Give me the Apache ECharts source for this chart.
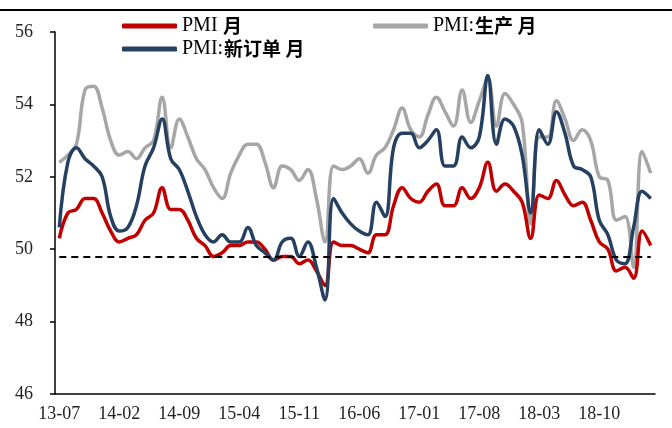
<!DOCTYPE html>
<html>
<head>
<meta charset="utf-8">
<script src="https://cdn.jsdelivr.net/npm/echarts@6/dist/echarts.min.js"></script>
<style>
    html, body { margin: 0; padding: 0; background: #fff; }
    #chart { width: 672px; height: 428px; }
</style>
</head>
<body>
<!-- 图表容器 -->
<div id="chart"></div>
<script>
// 月份
var months = [
    '13-07', '13-08', '13-09', '13-10', '13-11', '13-12',
    '14-01', '14-02', '14-03', '14-04', '14-05', '14-06', '14-07', '14-08', '14-09', '14-10', '14-11', '14-12',
    '15-01', '15-02', '15-03', '15-04', '15-05', '15-06', '15-07', '15-08', '15-09', '15-10', '15-11', '15-12',
    '16-01', '16-02', '16-03', '16-04', '16-05', '16-06', '16-07', '16-08', '16-09', '16-10', '16-11', '16-12',
    '17-01', '17-02', '17-03', '17-04', '17-05', '17-06', '17-07', '17-08', '17-09', '17-10', '17-11', '17-12',
    '18-01', '18-02', '18-03', '18-04', '18-05', '18-06', '18-07', '18-08', '18-09', '18-10', '18-11', '18-12',
    '19-01', '19-02', '19-03', '19-04'
]
// PMI 月
var pmi = [
    50.3, 51.0, 51.1, 51.4, 51.4, 51.0,
    50.5, 50.2, 50.3, 50.4, 50.8, 51.0, 51.7, 51.1, 51.1, 50.8, 50.3, 50.1,
    49.8, 49.9, 50.1, 50.1, 50.2, 50.2, 50.0, 49.7, 49.8, 49.8, 49.6, 49.7,
    49.4, 49.0, 50.2, 50.1, 50.1, 50.0, 49.9, 50.4, 50.4, 51.2, 51.7, 51.4,
    51.3, 51.6, 51.8, 51.2, 51.2, 51.7, 51.4, 51.7, 52.4, 51.6, 51.8, 51.6,
    51.3, 50.3, 51.5, 51.4, 51.9, 51.5, 51.2, 51.3, 50.8, 50.2, 50.0, 49.4,
    49.5, 49.2, 50.5, 50.1
]
// PMI:生产 月
var production = [
    52.4, 52.6, 52.9, 54.4, 54.5, 53.9,
    53.0, 52.6, 52.7, 52.5, 52.8, 53.0, 54.2, 52.8, 53.6, 53.1, 52.5, 52.2,
    51.7, 51.4, 52.1, 52.6, 52.9, 52.9, 52.4, 51.7, 52.3, 52.2, 51.9, 52.2,
    51.4, 50.2, 52.3, 52.2, 52.3, 52.5, 52.1, 52.6, 52.8, 53.3, 53.9, 53.3,
    53.1, 53.7, 54.2, 53.8, 53.4, 54.4, 53.5, 54.1, 54.7, 53.4, 54.3, 54.0,
    53.5, 50.7, 53.1, 53.1, 54.1, 53.6, 53.0, 53.3, 53.0, 52.0, 51.9, 50.8,
    50.9, 49.5, 52.7, 52.1
]
// PMI:新订单 月
var newOrders = [
    50.6, 52.4, 52.8, 52.5, 52.3, 52.0,
    50.9, 50.5, 50.6, 51.2, 52.3, 52.8, 53.6, 52.5, 52.2, 51.6, 50.9, 50.4,
    50.2, 50.4, 50.2, 50.2, 50.6, 50.1, 49.9, 49.7, 50.2, 50.3, 49.8, 50.2,
    49.5, 48.6, 51.4, 51.0, 50.7, 50.5, 50.4, 51.3, 50.9, 52.8, 53.2, 53.2,
    52.8, 53.0, 53.3, 52.3, 52.3, 53.1, 52.8, 53.1, 54.8, 52.9, 53.6, 53.4,
    52.6, 51.0, 53.3, 52.9, 53.8, 53.2, 52.3, 52.2, 52.0, 50.8, 50.4, 49.7,
    49.6, 50.6, 51.6, 51.4
]
// 虚线参考值
var refValue = 49.8

var serif = '"Liberation Serif", "Noto Sans CJK SC", serif'

// 图例文字: 英文用衬线体, 中文加粗
function legendLabel (name) {
    var m = name.match(/^([A-Za-z:]+)(.*)$/)
    return '{a|' + m[1] + '}{b|' + m[2] + '}'
}
var legendText = {
    color: '#000',
    rich: {
        a: { fontSize: 20, fontFamily: serif, color: '#000' },
        b: { fontSize: 19, fontFamily: '"Noto Sans CJK SC", sans-serif', fontWeight: 'bold', color: '#000', padding: [0, 0, 0, 1] }
    }
}

var myChart = echarts.init(document.getElementById('chart'))
myChart.setOption({
    animation: false,
    // 顶部的黑色横线
    graphic: {
        elements: [{
            type: 'line',
            z: 100,
            shape: { x1: 0, y1: 10, x2: 672, y2: 10 },
            style: { stroke: '#000', lineWidth: 2 }
        }]
    },
    grid: { left: 55, right: 17, top: 32, bottom: 34 },
    legend: [
        { data: ['PMI 月'], left: 117, top: 11 },
        { data: ['PMI:生产 月'], left: 368, top: 11 },
        { data: ['PMI:新订单 月'], left: 117, top: 34 }
    ].map(function (l) {
        l.icon = 'roundRect'
        l.itemWidth = 55
        l.itemHeight = 5
        l.itemGap = 4
        l.formatter = legendLabel
        l.textStyle = legendText
        return l
    }),
    xAxis: {
        type: 'category',
        data: months,
        boundaryGap: true,
        axisLine: { lineStyle: { color: '#000', width: 1.5 } },
        axisTick: { interval: 6, length: 5, lineStyle: { color: '#000', width: 1.5 } },
        axisLabel: { interval: 6, margin: 11, color: '#222', fontSize: 18, fontFamily: serif }
    },
    yAxis: {
        type: 'value',
        min: 46,
        max: 56,
        interval: 2,
        splitLine: { show: false },
        axisLine: { show: true, lineStyle: { color: '#000', width: 1.5 } },
        axisTick: { show: true, length: 5, lineStyle: { color: '#000', width: 1.5 } },
        axisLabel: { margin: 22, color: '#222', fontSize: 18, fontFamily: serif }
    },
    series: [
        {
            name: 'PMI 月',
            type: 'line',
            data: pmi,
            smooth: 0.4,
            symbol: 'none',
            z: 3,
            lineStyle: { color: '#C00000', width: 3.5 },
            itemStyle: { color: '#C00000' },
            // 虚线
            markLine: {
                silent: true,
                symbol: 'none',
                label: { show: false },
                lineStyle: { color: '#000', type: [7, 5], width: 1.8 },
                data: [[{ xAxis: 0, yAxis: refValue }, { xAxis: months.length - 1, yAxis: refValue }]]
            }
        },
        {
            name: 'PMI:生产 月',
            type: 'line',
            data: production,
            smooth: 0.4,
            symbol: 'none',
            z: 2,
            lineStyle: { color: '#A6A6A6', width: 3.5 },
            itemStyle: { color: '#A6A6A6' }
        },
        {
            name: 'PMI:新订单 月',
            type: 'line',
            data: newOrders,
            smooth: 0.4,
            symbol: 'none',
            z: 4,
            lineStyle: { color: '#254061', width: 3.5 },
            itemStyle: { color: '#254061' }
        }
    ]
})
window.addEventListener('resize', function () {
    myChart.resize()
})
</script>
</body>
</html>
